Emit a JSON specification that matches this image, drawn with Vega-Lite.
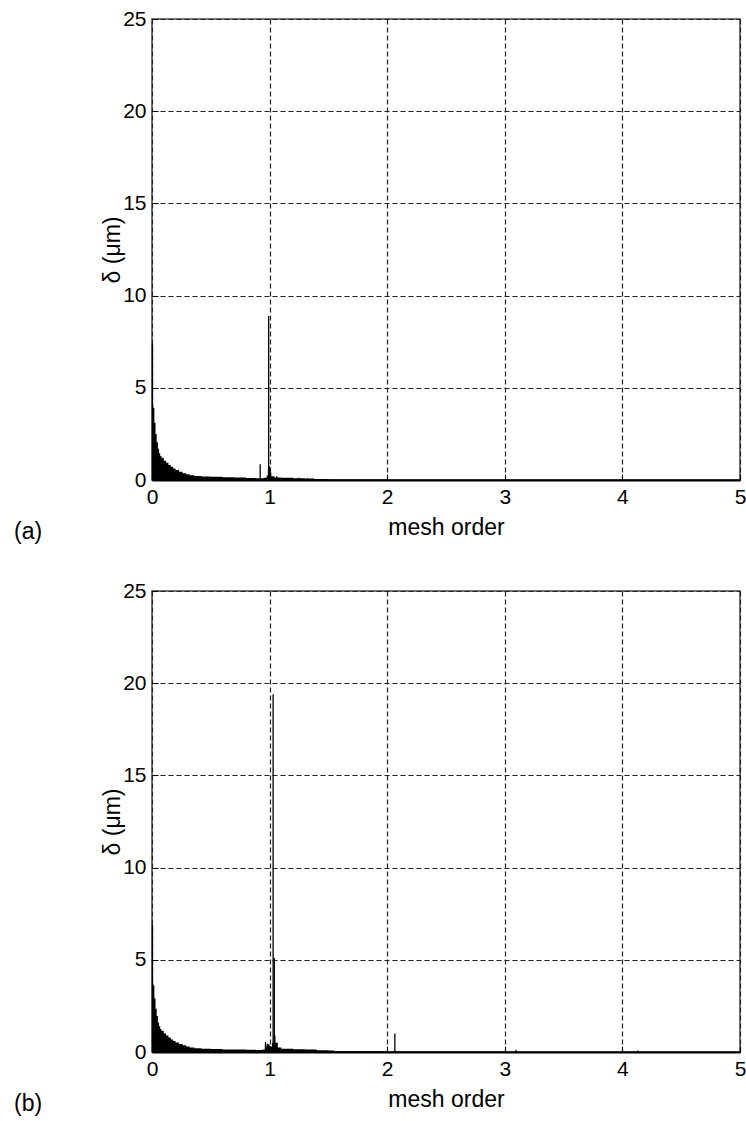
{
  "$schema": "https://vega.github.io/schema/vega-lite/v6.json",
  "background": "white",
  "padding": {"left": 13, "top": 7, "right": 0, "bottom": 0},
  "spacing": 34,
  "config": {
    "font": "Liberation Sans",
    "view": {"stroke": "#444444", "strokeWidth": 1.5},
    "axis": {
      "labelFont": "Liberation Sans",
      "labelFontSize": 21,
      "labelColor": "black",
      "labelFlush": false,
      "titleFont": "Liberation Sans",
      "titleFontSize": 23,
      "titleFontWeight": "normal",
      "titleColor": "black",
      "grid": true,
      "gridColor": "#222222",
      "gridDash": [5, 3],
      "gridWidth": 1.2,
      "domain": false,
      "ticks": true,
      "tickColor": "black",
      "tickSize": -6,
      "tickWidth": 1
    }
  },
  "datasets": {
    "envA": [
      {"f": 0, "d": 4.0}, {"f": 0.012, "d": 3.9}, {"f": 0.02, "d": 3.1}, {"f": 0.03, "d": 2.5},
      {"f": 0.04, "d": 2.05}, {"f": 0.05, "d": 1.7}, {"f": 0.06, "d": 1.45}, {"f": 0.07, "d": 1.3},
      {"f": 0.08, "d": 1.2}, {"f": 0.1, "d": 1.05}, {"f": 0.12, "d": 0.93}, {"f": 0.14, "d": 0.82},
      {"f": 0.16, "d": 0.72}, {"f": 0.18, "d": 0.62}, {"f": 0.2, "d": 0.54}, {"f": 0.23, "d": 0.45},
      {"f": 0.26, "d": 0.37}, {"f": 0.29, "d": 0.31}, {"f": 0.32, "d": 0.26}, {"f": 0.36, "d": 0.22},
      {"f": 0.42, "d": 0.19}, {"f": 0.5, "d": 0.17}, {"f": 0.6, "d": 0.15}, {"f": 0.7, "d": 0.13},
      {"f": 0.8, "d": 0.11}, {"f": 0.88, "d": 0.1}, {"f": 0.95, "d": 0.12}, {"f": 0.975, "d": 0.25},
      {"f": 0.985, "d": 0.6}, {"f": 0.995, "d": 0.75}, {"f": 1.005, "d": 0.4}, {"f": 1.015, "d": 0.2},
      {"f": 1.04, "d": 0.14}, {"f": 1.1, "d": 0.12}, {"f": 1.2, "d": 0.1}, {"f": 1.3, "d": 0.08},
      {"f": 1.38, "d": 0.05}, {"f": 1.5, "d": 0.03}, {"f": 2, "d": 0.02}, {"f": 3, "d": 0.015},
      {"f": 4, "d": 0.01}, {"f": 5, "d": 0.01}
    ],
    "spikeA": [
      {"f": 0.004, "d": 7.4}, {"f": 0.92, "d": 0.86}, {"f": 0.992, "d": 8.9},
      {"f": 1.06, "d": 0.2}, {"f": 1.25, "d": 0.12}, {"f": 1.32, "d": 0.1}
    ],
    "envB": [
      {"f": 0, "d": 3.7}, {"f": 0.012, "d": 3.6}, {"f": 0.02, "d": 2.9}, {"f": 0.03, "d": 2.35},
      {"f": 0.04, "d": 1.95}, {"f": 0.05, "d": 1.6}, {"f": 0.06, "d": 1.4}, {"f": 0.07, "d": 1.25},
      {"f": 0.08, "d": 1.15}, {"f": 0.1, "d": 1.0}, {"f": 0.12, "d": 0.9}, {"f": 0.14, "d": 0.78},
      {"f": 0.16, "d": 0.68}, {"f": 0.18, "d": 0.6}, {"f": 0.2, "d": 0.52}, {"f": 0.23, "d": 0.43},
      {"f": 0.26, "d": 0.36}, {"f": 0.29, "d": 0.3}, {"f": 0.32, "d": 0.25}, {"f": 0.36, "d": 0.21},
      {"f": 0.42, "d": 0.18}, {"f": 0.5, "d": 0.16}, {"f": 0.6, "d": 0.14}, {"f": 0.7, "d": 0.13},
      {"f": 0.8, "d": 0.12}, {"f": 0.88, "d": 0.11}, {"f": 0.94, "d": 0.13}, {"f": 0.96, "d": 0.3},
      {"f": 0.975, "d": 0.45}, {"f": 0.99, "d": 0.4}, {"f": 1.0, "d": 0.3}, {"f": 1.02, "d": 0.5},
      {"f": 1.035, "d": 0.9}, {"f": 1.05, "d": 0.5}, {"f": 1.07, "d": 0.25}, {"f": 1.1, "d": 0.18},
      {"f": 1.2, "d": 0.15}, {"f": 1.3, "d": 0.13}, {"f": 1.4, "d": 0.1}, {"f": 1.5, "d": 0.08},
      {"f": 1.55, "d": 0.04}, {"f": 2, "d": 0.03}, {"f": 2.05, "d": 0.05}, {"f": 2.1, "d": 0.03},
      {"f": 3, "d": 0.02}, {"f": 4, "d": 0.015}, {"f": 5, "d": 0.01}
    ],
    "spikeB": [
      {"f": 0.004, "d": 6.9}, {"f": 0.965, "d": 0.55}, {"f": 1.03, "d": 19.4},
      {"f": 1.04, "d": 5.1}, {"f": 2.065, "d": 1.0}, {"f": 3.095, "d": 0.12}, {"f": 4.13, "d": 0.08}
    ]
  },
  "vconcat": [
    {
      "width": 588,
      "height": 461,
      "title": {"text": "(a)", "orient": "bottom", "anchor": "start", "frame": "group", "align": "left", "dx": -138, "dy": -22, "fontSize": 23, "fontWeight": "normal", "font": "Liberation Sans", "color": "black"},
      "layer": [
        {
          "data": {"name": "envA"},
          "mark": {"type": "area", "color": "black", "interpolate": "step-after", "opacity": 1},
          "encoding": {
            "x": {"field": "f", "type": "quantitative", "scale": {"domain": [0, 5], "nice": false}, "axis": {"values": [0, 1, 2, 3, 4, 5], "format": "d", "title": "mesh order", "labelPadding": 12, "titlePadding": 9, "domain": true, "domainColor": "black", "domainWidth": 2}},
            "y": {"field": "d", "type": "quantitative", "scale": {"domain": [0, 25], "nice": false}, "axis": {"values": [0, 5, 10, 15, 20, 25], "format": "d", "title": "δ (μm)", "labelPadding": 12, "titlePadding": -2}}
          }
        },
        {
          "data": {"name": "spikeA"},
          "mark": {"type": "rule", "color": "black", "strokeWidth": 1.3},
          "encoding": {
            "x": {"field": "f", "type": "quantitative"},
            "y": {"field": "d", "type": "quantitative"},
            "y2": {"datum": 0}
          }
        }
      ]
    },
    {
      "width": 588,
      "height": 461,
      "title": {"text": "(b)", "orient": "bottom", "anchor": "start", "frame": "group", "align": "left", "dx": -138, "dy": -22, "fontSize": 23, "fontWeight": "normal", "font": "Liberation Sans", "color": "black"},
      "layer": [
        {
          "data": {"name": "envB"},
          "mark": {"type": "area", "color": "black", "interpolate": "step-after", "opacity": 1},
          "encoding": {
            "x": {"field": "f", "type": "quantitative", "scale": {"domain": [0, 5], "nice": false}, "axis": {"values": [0, 1, 2, 3, 4, 5], "format": "d", "title": "mesh order", "labelPadding": 12, "titlePadding": 9, "domain": true, "domainColor": "black", "domainWidth": 2}},
            "y": {"field": "d", "type": "quantitative", "scale": {"domain": [0, 25], "nice": false}, "axis": {"values": [0, 5, 10, 15, 20, 25], "format": "d", "title": "δ (μm)", "labelPadding": 12, "titlePadding": -2}}
          }
        },
        {
          "data": {"name": "spikeB"},
          "mark": {"type": "rule", "color": "black", "strokeWidth": 1.3},
          "encoding": {
            "x": {"field": "f", "type": "quantitative"},
            "y": {"field": "d", "type": "quantitative"},
            "y2": {"datum": 0}
          }
        }
      ]
    }
  ]
}
